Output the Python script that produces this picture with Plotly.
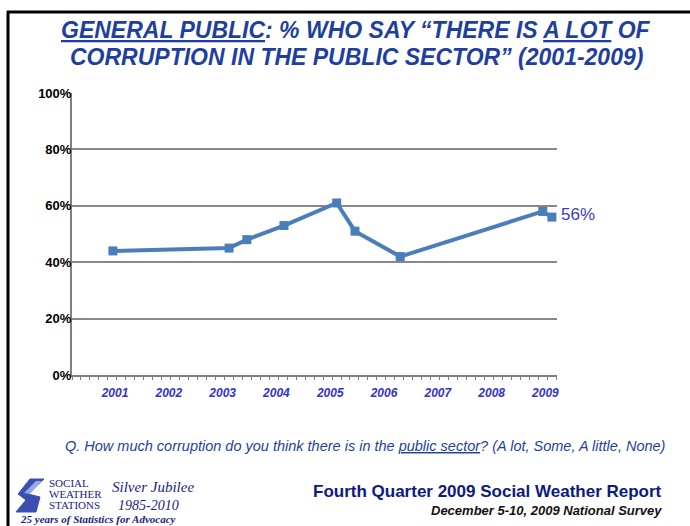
import plotly.graph_objects as go

# Data (survey points, decimal year position on the time axis)
survey_x = [2000.96, 2003.12, 2003.45, 2004.14, 2005.12, 2005.46, 2006.30, 2008.95, 2009.12]
pct_a_lot = [44, 45, 48, 53, 61, 51, 42, 58, 56]
year_labels = ["2001", "2002", "2003", "2004", "2005", "2006", "2007", "2008", "2009"]
year_pos = [2001, 2002, 2003, 2004, 2005, 2006, 2007, 2008, 2009]
y_ticks = [0, 20, 40, 60, 80, 100]
y_labels = ["0%", "20%", "40%", "60%", "80%", "100%"]

W, H = 690, 526
L, R, T, B = 72, 557, 93, 375


def px(x):
    return (x - L) / (R - L)


def py(y):
    return (B - y) / (B - T)


fig = go.Figure()
fig.add_trace(go.Scatter(
    x=survey_x, y=pct_a_lot, mode="lines+markers",
    line=dict(color="#4a7ebb", width=4),
    marker=dict(symbol="square", size=9, color="#4a7ebb"),
    hoverinfo="skip", showlegend=False,
))

fig.update_layout(
    width=W, height=H,
    margin=dict(l=L, r=W - R, t=T, b=H - B),
    paper_bgcolor="white", plot_bgcolor="white",
    font=dict(family="Liberation Sans, Arial, sans-serif"),
    showlegend=False,
)

fig.update_xaxes(
    range=[2000.2, 2009.215], showgrid=False, zeroline=False,
    showline=True, linecolor="#808080", linewidth=2,
    tickvals=year_pos, ticktext=[f"<b><i>{t}</i></b>" for t in year_labels],
    ticks="outside", ticklen=6, tickcolor="rgba(0,0,0,0)",
    tickfont=dict(size=12, color="#3333cc", family="Liberation Sans"),
    minor=dict(tick0=2000.2, dtick=1 / 6, ticks="outside", ticklen=3,
               tickcolor="#808080", tickwidth=1, showgrid=False),
    fixedrange=True,
)
fig.update_yaxes(
    range=[0, 100], tickvals=y_ticks, ticktext=[f"<b>{t}</b>" for t in y_labels],
    showgrid=True, gridcolor="#888888", gridwidth=1.5,
    showline=True, linecolor="#808080", linewidth=2, zeroline=False,
    ticks="", tickfont=dict(size=13, color="#000000"),
    ticklabelstandoff=-4,
    fixedrange=True,
)

title_color = "#1f3f9f"
ann = []
ann.append(dict(
    x=px(356), y=py(30), xref="paper", yref="paper", showarrow=False,
    text="<b><i><u>GENERAL PUBLIC</u>: % WHO SAY \u201cTHERE IS <u>A LOT</u> OF</i></b>",
    font=dict(size=23, color=title_color), xanchor="center", yanchor="middle"))
ann.append(dict(
    x=px(356), y=py(57), xref="paper", yref="paper", showarrow=False,
    text="<b><i>CORRUPTION IN THE PUBLIC SECTOR\u201d (2001-2009)</i></b>",
    font=dict(size=23, color=title_color), xanchor="center", yanchor="middle"))
ann.append(dict(
    x=survey_x[-1], y=pct_a_lot[-1] + 1, xref="x", yref="y", showarrow=False,
    text=f"{pct_a_lot[-1]}%", xanchor="left", yanchor="middle", xshift=7,
    font=dict(size=17, color="#3c3cc0")))
ann.append(dict(
    x=px(365), y=py(446), xref="paper", yref="paper", showarrow=False,
    text="<i>Q. How much corruption do you think there is in the <u>public sector</u>? (A lot, Some, A little, None)</i>",
    font=dict(size=14.5, color=title_color), xanchor="center", yanchor="middle"))
ann.append(dict(
    x=px(664), y=py(492), xref="paper", yref="paper", showarrow=False,
    text="<b>Fourth Quarter 2009 Social Weather Report</b>",
    font=dict(size=17, color="#0d1a80"), xanchor="right", yanchor="middle"))
ann.append(dict(
    x=px(664), y=py(510), xref="paper", yref="paper", showarrow=False,
    text="<b><i>December 5-10, 2009 National Survey</i></b>",
    font=dict(size=13, color="#111111"), xanchor="right", yanchor="middle"))
# logo texts
serif = "Liberation Serif, Times New Roman, serif"
for txt, yy in [("SOCIAL", 483), ("WEATHER", 494), ("STATIONS", 505)]:
    ann.append(dict(x=px(47), y=py(yy), xref="paper", yref="paper", showarrow=False,
                    text=txt, xanchor="left", yanchor="middle",
                    font=dict(size=11, color="#1a237e", family=serif)))
ann.append(dict(x=px(153), y=py(487), xref="paper", yref="paper", showarrow=False,
                text="<i>Silver Jubilee</i>", xanchor="center", yanchor="middle",
                font=dict(size=15, color="#1a237e", family=serif)))
ann.append(dict(x=px(148), y=py(505), xref="paper", yref="paper", showarrow=False,
                text="<i>1985-2010</i>", xanchor="center", yanchor="middle",
                font=dict(size=14, color="#1a237e", family=serif)))
ann.append(dict(x=px(18), y=py(519), xref="paper", yref="paper", showarrow=False,
                text="<b><i>25 years of Statistics for Advocacy</i></b>", xanchor="left", yanchor="middle",
                font=dict(size=11, color="#1a237e", family=serif)))
fig.update_layout(annotations=ann)

shapes = []
# frame lines
shapes.append(dict(type="line", xref="paper", yref="paper", x0=px(7), x1=px(700),
                   y0=py(12), y1=py(12), line=dict(color="black", width=3)))
shapes.append(dict(type="line", xref="paper", yref="paper", x0=px(8), x1=px(8),
                   y0=py(11), y1=py(540), line=dict(color="black", width=3)))


# logo swoosh
def pth(points):
    return "M " + " L ".join(f"{px(a):.4f},{py(b):.4f}" for a, b in points) + " Z"


shapes.append(dict(type="path", xref="paper", yref="paper",
                   path=pth([(30, 479), (44, 479), (28, 494), (40, 497), (36, 512), (16, 512), (26, 500), (18, 494)]),
                   fillcolor="#3a4fb0", line=dict(color="#3a4fb0", width=1)))
shapes.append(dict(type="path", xref="paper", yref="paper",
                   path=pth([(36, 481), (42, 481), (30, 494), (24, 493)]),
                   fillcolor="#9aa8e0", line=dict(width=0)))
fig.update_layout(shapes=shapes)

fig.write_html("out.html", config={"displayModeBar": False},
               post_script="document.body.style.margin='0px';")
